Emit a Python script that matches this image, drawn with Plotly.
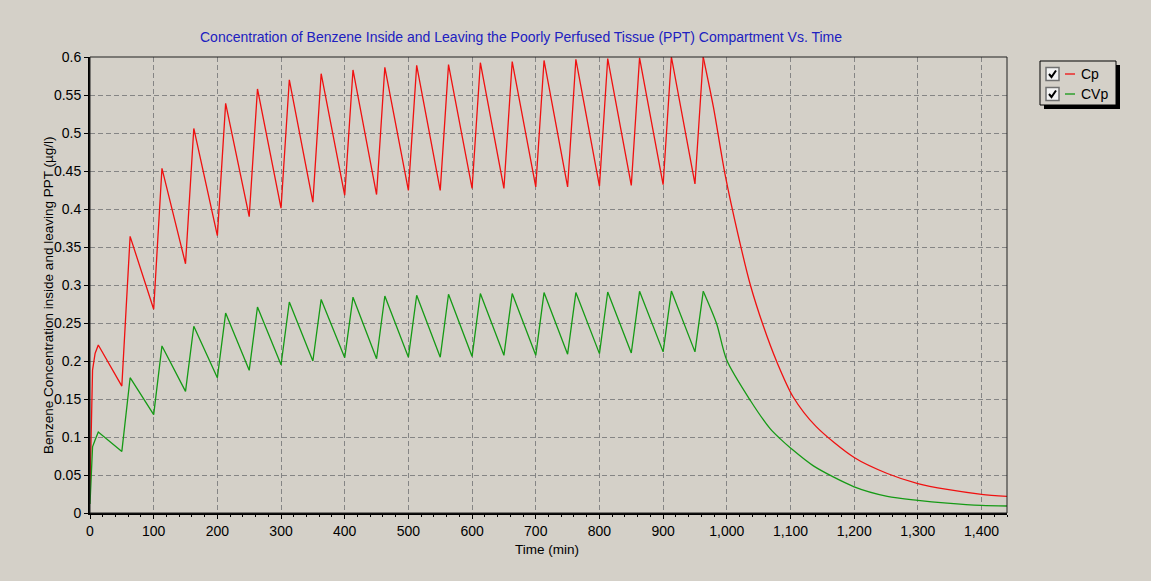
import plotly.graph_objects as go

# ---------------- data ----------------
start_t   = [0, 4, 8]
cp_start  = [0.03, 0.188, 0.21]
cvp_start = [0.012, 0.087, 0.096]

peak_t = [13, 63, 113, 163, 213, 263, 313, 363, 413, 463,
          513, 563, 613, 663, 713, 763, 813, 863, 913, 963]
trough_t = [50, 100, 150, 200, 250, 300, 350, 400, 450, 500,
            550, 600, 650, 700, 750, 800, 850, 900, 950]

cp_peak = [0.221, 0.364, 0.4535, 0.506, 0.539, 0.558, 0.570, 0.578, 0.583, 0.5865,
           0.589, 0.590, 0.5925, 0.594, 0.5955, 0.597, 0.598, 0.599, 0.600, 0.600]
cp_trough = [0.167, 0.268, 0.328, 0.365, 0.390, 0.401, 0.409, 0.418, 0.419, 0.4245,
             0.4245, 0.427, 0.427, 0.429, 0.429, 0.430, 0.431, 0.432, 0.433]

cvp_peak = [0.1066, 0.178, 0.2198, 0.2457, 0.263, 0.271, 0.2776, 0.281, 0.284, 0.2855,
            0.2865, 0.2878, 0.2887, 0.2887, 0.290, 0.290, 0.2908, 0.2917, 0.292, 0.2917]
cvp_trough = [0.081, 0.1295, 0.160, 0.178, 0.1877, 0.195, 0.200, 0.2044, 0.203, 0.205,
              0.205, 0.206, 0.2075, 0.2075, 0.209, 0.2097, 0.2105, 0.212, 0.212]

cp_tail_t = [979, 997, 1018, 1037, 1057, 1078, 1104, 1140, 1200, 1252, 1300, 1346, 1400, 1440]
cp_tail   = [0.534, 0.4466, 0.365, 0.300, 0.247, 0.200, 0.153, 0.114, 0.073, 0.052,
             0.0387, 0.031, 0.0246, 0.022]

cvp_tail_t = [984, 1000, 1037, 1068, 1084, 1100, 1136, 1200, 1252, 1300, 1346, 1400, 1440]
cvp_tail   = [0.249, 0.2009, 0.148, 0.111, 0.0975, 0.0855, 0.062, 0.0345, 0.022, 0.0167,
              0.013, 0.010, 0.0092]

x_ticks = [0, 100, 200, 300, 400, 500, 600, 700, 800, 900, 1000, 1100, 1200, 1300, 1400]
y_ticks = [0, 0.05, 0.1, 0.15, 0.2, 0.25, 0.3, 0.35, 0.4, 0.45, 0.5, 0.55, 0.6]
y_tick_text = ["0", "0.05", "0.1", "0.15", "0.2", "0.25", "0.3", "0.35", "0.4",
               "0.45", "0.5", "0.55", "0.6"]


def build_cycles(st_t, st_v, pk, tr):
    xs, ys = list(st_t), list(st_v)
    for k in range(len(peak_t)):
        xs.append(peak_t[k]); ys.append(pk[k])
        if k < len(trough_t):
            xs.append(trough_t[k]); ys.append(tr[k])
    return xs, ys


cp_x, cp_y = build_cycles(start_t, cp_start, cp_peak, cp_trough)
cvp_x, cvp_y = build_cycles(start_t, cvp_start, cvp_peak, cvp_trough)

BG = "#d4d0c8"
FONT = "Liberation Sans, Arial, sans-serif"
RED = "#f01010"
GREEN = "#159a15"
FS = 14

W, H = 1151, 581
L, R, T, B = 90, 144, 57, 68
PW, PH = W - L - R, H - T - B


def px(x):
    return (x - L) / PW


def py(y):
    return (H - B - y) / PH


fig = go.Figure()
for xs, ys, tt, tv, col, name in [
    (cp_x, cp_y, cp_tail_t, cp_tail, RED, "Cp"),
    (cvp_x, cvp_y, cvp_tail_t, cvp_tail, GREEN, "CVp"),
]:
    fig.add_trace(go.Scatter(x=xs, y=ys, mode="lines", name=name,
                             line=dict(color=col, width=1.3), showlegend=False))
    fig.add_trace(go.Scatter(x=[xs[-1]] + tt, y=[ys[-1]] + tv, mode="lines", name=name,
                             line=dict(color=col, width=1.3, shape="spline", smoothing=0.8),
                             showlegend=False))

fig.update_layout(
    width=W, height=H,
    margin=dict(l=L, r=R, t=T, b=B),
    paper_bgcolor=BG, plot_bgcolor=BG,
    font=dict(family=FONT, size=FS, color="black"),
    showlegend=False,
)
fig.update_xaxes(
    range=[0, 1440], tickvals=x_ticks, tickformat=",d",
    showline=True, linecolor="black", linewidth=2,
    ticks="outside", ticklen=4, tickcolor="black",
    showgrid=True, gridcolor="#858585", gridwidth=1, griddash="5px,3px",
    minor=dict(dtick=20, ticks="outside", ticklen=2, tickcolor="black", showgrid=False),
    zeroline=False, tickfont=dict(size=FS),
)
fig.update_yaxes(
    range=[0, 0.6], tickvals=y_ticks, ticktext=y_tick_text,
    showline=True, linecolor="black", linewidth=2,
    ticks="outside", ticklen=4, tickcolor="black",
    showgrid=True, gridcolor="#858585", gridwidth=1, griddash="5px,3px",
    zeroline=False, tickfont=dict(size=FS),
)

shapes = []
shapes.append(dict(type="rect", xref="paper", yref="paper", x0=0, x1=1, y0=0, y1=1,
                   line=dict(color="#202020", width=1), layer="above"))
lx0, lx1, ly0, ly1 = 1040, 1116, 61, 105
shapes.append(dict(type="rect", xref="paper", yref="paper",
                   x0=px(lx0 + 4), x1=px(lx1 + 4), y0=py(ly1 + 4), y1=py(ly0 + 4),
                   fillcolor="black", line=dict(width=0)))
shapes.append(dict(type="rect", xref="paper", yref="paper",
                   x0=px(lx0), x1=px(lx1), y0=py(ly1), y1=py(ly0),
                   fillcolor=BG, line=dict(color="black", width=1)))
annotations = []
for i, (label, col) in enumerate([("Cp", RED), ("CVp", GREEN)]):
    cy = 74 + i * 20
    shapes.append(dict(type="rect", xref="paper", yref="paper",
                       x0=px(1046), x1=px(1059), y0=py(cy + 6.5), y1=py(cy - 6.5),
                       fillcolor="#f4f4f4", line=dict(color="#707070", width=1.5)))
    shapes.append(dict(type="path", xref="paper", yref="paper",
                       path=f"M {px(1049)} {py(cy)} L {px(1051.5)} {py(cy + 3)} L {px(1056)} {py(cy - 3.5)}",
                       line=dict(color="black", width=2)))
    shapes.append(dict(type="line", xref="paper", yref="paper",
                       x0=px(1065), x1=px(1075), y0=py(cy), y1=py(cy),
                       line=dict(color=col, width=1.3)))
    annotations.append(dict(x=px(1079), y=py(cy), xref="paper", yref="paper",
                            text=label, showarrow=False, xanchor="left", yanchor="middle",
                            font=dict(size=FS, color="black", family=FONT)))

annotations.append(dict(
    x=px(521), y=py(37), xref="paper", yref="paper", showarrow=False,
    text="Concentration of Benzene Inside and Leaving the Poorly Perfused Tissue (PPT) Compartment Vs. Time",
    font=dict(size=14, color="#2020c0", family=FONT), xanchor="center", yanchor="middle"))
annotations.append(dict(
    x=px(48), y=py(296), xref="paper", yref="paper", showarrow=False, textangle=-90,
    text="Benzene Concentration inside and leaving PPT (µg/l)",
    font=dict(size=13.5, color="black", family=FONT), xanchor="center", yanchor="middle"))
annotations.append(dict(
    x=px(547), y=py(549), xref="paper", yref="paper", showarrow=False,
    text="Time (min)", font=dict(size=13.5, color="black", family=FONT),
    xanchor="center", yanchor="middle"))

fig.update_layout(shapes=shapes, annotations=annotations)
fig.write_html("out.html")
